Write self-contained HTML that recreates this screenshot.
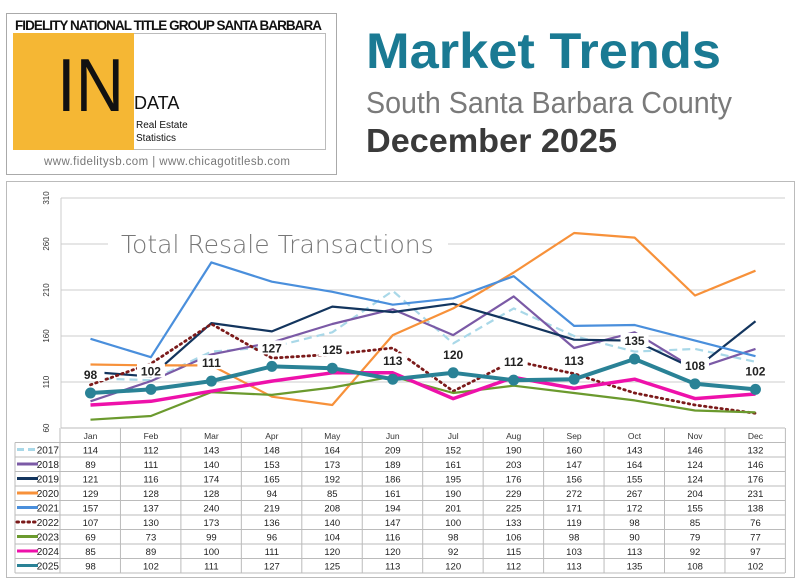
<!DOCTYPE html>
<html><head><meta charset="utf-8"><style>
body{margin:0;background:#fff;width:800px;height:584px;overflow:hidden;font-family:"Liberation Sans",sans-serif}
</style></head><body>
<svg id="s" width="800" height="584" xmlns="http://www.w3.org/2000/svg" style="position:absolute;left:0;top:0">
<rect x="6.5" y="13.5" width="330" height="161" fill="#fff" stroke="#aaa"/>
<rect x="13.5" y="33.5" width="312" height="116" fill="#fff" stroke="#bbb"/>
<rect x="13" y="33" width="121" height="117" fill="#f5b734"/>
<text x="15" y="30" font-size="13.5" font-weight="bold" fill="#111" textLength="307">FIDELITY NATIONAL TITLE GROUP SANTA BARBARA</text>
<text x="57" y="111" font-size="75" fill="#111" textLength="67" lengthAdjust="spacingAndGlyphs">IN</text>
<text x="134" y="109" font-size="18" fill="#111">DATA</text>
<text x="136" y="128" font-size="10" fill="#111">Real Estate</text>
<text x="136" y="141" font-size="10" fill="#111">Statistics</text>
<text x="44" y="165" font-size="11.5" fill="#777" textLength="246">www.fidelitysb.com | www.chicagotitlesb.com</text>
<text x="366" y="68" font-size="50" font-weight="bold" fill="#1a7a93" textLength="355" lengthAdjust="spacingAndGlyphs">Market Trends</text>
<text x="366" y="113" font-size="31" fill="#7a7a7a" textLength="366" lengthAdjust="spacingAndGlyphs">South Santa Barbara County</text>
<text x="366" y="152" font-size="33" font-weight="bold" fill="#3a3a3a" textLength="251" lengthAdjust="spacingAndGlyphs">December 2025</text>
<rect x="6.5" y="181.5" width="788" height="396" fill="#fff" stroke="#bbb"/>
<g id="g"></g>
</svg>
<script>
var g=document.getElementById('g'),h='';
function Y(v){return 428-(v-60)*0.92}
function X(i){return 90.5+i*60.45}
[310,260,210,160,110,60].forEach(function(v){var y=Y(v);
 if(v>60)h+='<line x1="61" x2="785" y1="'+y+'" y2="'+y+'" stroke="#ccc"/>';
 h+='<text transform="translate(49,'+y+') rotate(-90)" text-anchor="middle" font-size="8" fill="#333">'+v+'</text>';});
h+='<line x1="61" x2="61" y1="198" y2="428" stroke="#ccc"/>';
h+='<rect x="108" y="230" width="340" height="28" fill="#fff"/>';
h+='<line x1="61" x2="108" y1="244" y2="244" stroke="#ccc"/>';
h+='<text x="121" y="253" font-size="25" fill="#777" font-family="DejaVu Sans" font-weight="200">Total Resale Transactions</text>';
var M=['Jan','Feb','Mar','Apr','May','Jun','Jul','Aug','Sep','Oct','Nov','Dec'];
var D=[
['2017','#a9d8e8',114,112,143,148,164,209,152,190,160,143,146,132,'dash'],
['2018','#7b5aa6',89,111,140,153,173,189,161,203,147,164,124,146],
['2019','#13355e',121,116,174,165,192,186,195,176,156,155,124,176],
['2020','#f7913a',129,128,128,94,85,161,190,229,272,267,204,231],
['2021','#4a8fdc',157,137,240,219,208,194,201,225,171,172,155,138],
['2022','#7b1a1a',107,130,173,136,140,147,100,133,119,98,85,76,'dot'],
['2023','#6b9a2e',69,73,99,96,104,116,98,106,98,90,79,77],
['2024','#ee11aa',85,89,100,111,120,120,92,115,103,113,92,97],
['2025','#2a8296',98,102,111,127,125,113,120,112,113,135,108,102]];
D.forEach(function(d,k){var p=[];for(var i=0;i<12;i++)p.push(X(i).toFixed(1)+','+Y(d[i+2]).toFixed(1));
 var w=k==8?4:(k==7?3.5:2.2),ex='';
 if(d[14]=='dash')ex=' stroke-dasharray="8,5"';
 if(d[14]=='dot'){ex=' stroke-dasharray="1.5,4" stroke-linecap="round"';w=2.8}
 h+='<polyline points="'+p.join(' ')+'" fill="none" stroke="'+d[1]+'" stroke-width="'+w+'"'+ex+' stroke-linejoin="round"/>';
 if(k==8)for(var i=0;i<12;i++)h+='<circle cx="'+X(i)+'" cy="'+Y(d[i+2])+'" r="5.5" fill="'+d[1]+'"/>';});
var L=D[8];for(var i=0;i<12;i++){var y=Y(L[i+2])-16;h+='<rect x="'+(X(i)-14)+'" y="'+(y-10)+'" width="28" height="14" fill="#fff"/><text x="'+X(i)+'" y="'+(y+2)+'" text-anchor="middle" font-size="12" font-weight="bold" fill="#222">'+L[i+2]+'</text>';}
var t0=428,rh=14.5;
for(var r=0;r<=10;r++){var y=t0+r*rh;h+='<line x1="'+(r==0?61:15)+'" x2="785" y1="'+y+'" y2="'+y+'" stroke="#bbb"/>';}
for(var c=0;c<=12;c++){var x=60+c*60.45;h+='<line x1="'+x+'" x2="'+x+'" y1="428" y2="'+(t0+10*rh)+'" stroke="#bbb"/>';}
h+='<line x1="15" x2="15" y1="'+(t0+rh)+'" y2="'+(t0+10*rh)+'" stroke="#bbb"/>';
M.forEach(function(m,i){h+='<text x="'+X(i)+'" y="'+(t0+11)+'" text-anchor="middle" font-size="8.5" fill="#333">'+m+'</text>'});
D.forEach(function(d,k){var y=t0+(k+1)*rh+11,ly=y-4,ex='',w=3;
 if(d[14]=='dash')ex=' stroke-dasharray="7,4"';if(d[14]=='dot'){ex=' stroke-dasharray="1.5,4" stroke-linecap="round"';}
 h+='<line x1="17" x2="38" y1="'+ly+'" y2="'+ly+'" stroke="'+d[1]+'" stroke-width="'+w+'"'+ex+'/>';
 h+='<text x="59" y="'+y+'" text-anchor="end" font-size="10" fill="#222">'+d[0]+'</text>';
 for(var i=0;i<12;i++)h+='<text x="'+X(i)+'" y="'+y+'" text-anchor="middle" font-size="9.5" fill="#222">'+d[i+2]+'</text>';});
g.innerHTML=h;
</script>
</body></html>
